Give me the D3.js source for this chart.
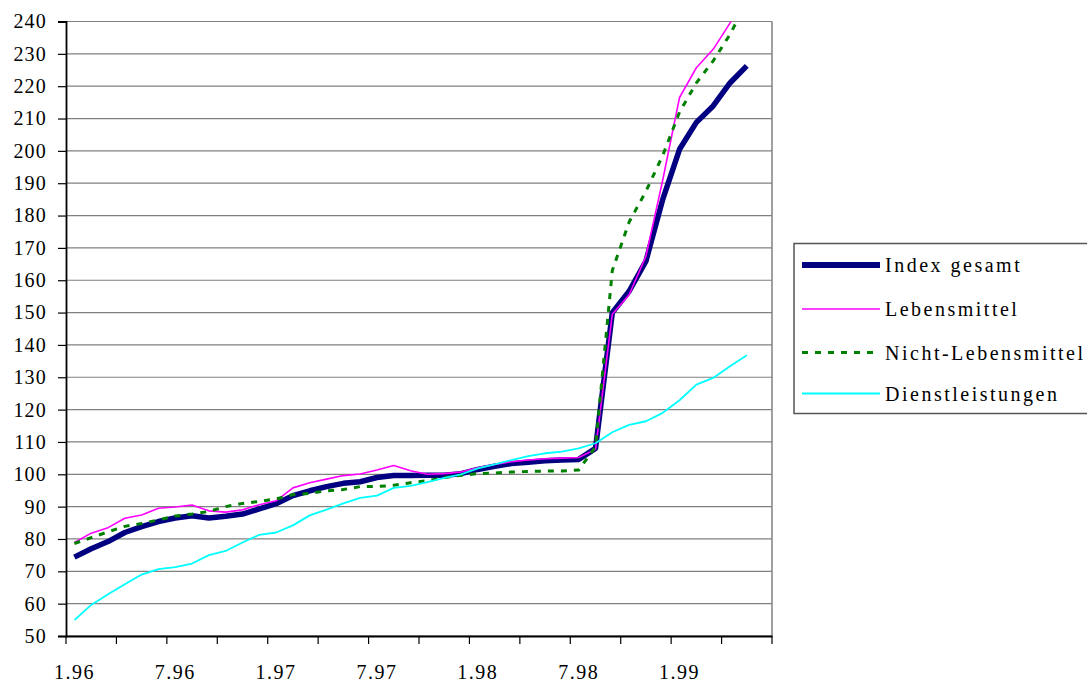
<!DOCTYPE html>
<html><head><meta charset="utf-8">
<script src="https://cdn.jsdelivr.net/npm/d3@7/dist/d3.min.js"></script>
<style>html,body{margin:0;padding:0;background:#fff;overflow:hidden}
text{font-family:"Liberation Serif","Times New Roman",Tinos,"Nimbus Roman","DejaVu Serif",serif}</style>
</head><body>
<svg id="c" width="1087" height="684"></svg>
<script>
// Categories: months 1.96 … 6.99
const years = ["96","97","98","99"];
const categories = [];
years.forEach(y => { for (let m = 1; m <= 12; m++) { if (y === "99" && m > 6) break; categories.push(m + "." + y); } });

const seriesNames = ["Index gesamt", "Lebensmittel", "Nicht-Lebensmittel", "Dienstleistungen"];

const indexGesamt = [74.4,77,79.2,82,83.8,85.4,86.5,87.2,86.5,87,87.7,89.3,90.9,93.4,94.9,96.2,97.2,97.7,99,99.6,
  99.6,99.7,99.7,100.2,101.5,102.5,103.3,103.7,104.2,104.4,104.6,108,150,156.6,165.9,185,200.5,208.8,213.9,221,226.3];
const lebensmittel = [78.9,81.8,83.5,86.4,87.4,89.5,89.9,90.5,88.7,88.3,89,90.6,91.8,95.8,97.4,98.5,99.6,100.1,101.3,102.7,
  101.1,100,100.2,100.7,102,103,103.9,104.4,104.8,105,105.2,107.7,149.5,155.5,167.4,191,216.5,225.7,231.4,239.5,247];
const nichtLebensmittel = [78.6,80.4,82.2,83.9,84.8,85.9,87.1,87.7,88.5,90,91,91.6,92.4,93.7,94.1,94.9,95.3,96.2,96.2,96.6,
  97.4,98,99,99.7,100.2,100.4,100.7,100.9,101,101,101.3,108.5,163,178,187.5,198.6,212,221,227.8,236,246];
const dienstleistungen = [54.9,59.6,62.9,66,69,70.7,71.3,72.4,75,76.3,78.9,81.3,82,84.2,87.3,89.1,91,92.7,93.4,95.8,
  96.4,97.6,98.9,100,101.8,103.1,104.4,105.6,106.5,107,108,109.6,113,115.3,116.4,119,122.9,127.7,129.8,133.4,136.8];

const yTicks = d3.range(50, 241, 10);
const xLabelEvery = 6, xTickEvery = 3;

const series = [
  {name: seriesNames[0], values: indexGesamt, color: "#000080", width: 5.5, dash: null},
  {name: seriesNames[1], values: lebensmittel, color: "#FF00FF", width: 1.6, dash: null},
  {name: seriesNames[2], values: nichtLebensmittel, color: "#008000", width: 3, dash: "6,7"},
  {name: seriesNames[3], values: dienstleistungen, color: "#00FFFF", width: 1.8, dash: null}
];

const svg = d3.select("#c");
const L = 66, R = 772, T = 21.5, B = 636;

const x = d3.scaleBand().domain(categories).range([L, R]).padding(0);
const y = d3.scaleLinear().domain([50, 240]).range([B, T]);

// gridlines
svg.append("g").selectAll("line").data(yTicks).join("line")
  .attr("x1", L).attr("x2", R).attr("y1", d => y(d)).attr("y2", d => y(d))
  .attr("stroke", "#808080").attr("stroke-width", 1.2);
// right plot border
svg.append("line").attr("x1", R).attr("x2", R).attr("y1", T).attr("y2", B)
  .attr("stroke", "#808080").attr("stroke-width", 1.5);

// clip
svg.append("clipPath").attr("id", "clip").append("rect")
  .attr("x", L).attr("y", T).attr("width", R - L).attr("height", B - T);

const line = d3.line().x((d, i) => x(categories[i]) + x.bandwidth() / 2).y(d => y(d));
const g = svg.append("g").attr("clip-path", "url(#clip)");
series.forEach(s => {
  g.append("path").datum(s.values).attr("d", line)
    .attr("fill", "none").attr("stroke", s.color).attr("stroke-width", s.width)
    .attr("stroke-linejoin", "round")
    .attr("stroke-dasharray", s.dash);
});

// Y axis
const yAxis = d3.axisLeft(y).tickValues(yTicks).tickSize(8).tickPadding(12).tickFormat(d3.format("d"));
const ya = svg.append("g").attr("transform", `translate(${L},0)`).call(yAxis);
ya.attr("font-family", null);
ya.select(".domain").attr("stroke", "#000").attr("stroke-width", 1.8);
ya.selectAll(".tick line").attr("stroke", "#000").attr("stroke-width", 1.2);
ya.selectAll(".tick text").attr("font-size", 20).attr("fill", "#000")
  .attr("letter-spacing", "1.2px").attr("x", -19);

// X axis
const xAxis = d3.axisBottom(x).tickSize(0).tickFormat((d, i) => i % xLabelEvery === 0 ? d : "");
const xa = svg.append("g").attr("transform", `translate(0,${B})`).call(xAxis);
xa.attr("font-family", null);
xa.select(".domain").attr("stroke", "#000").attr("stroke-width", 1.8);
xa.selectAll(".tick text").attr("font-size", 20).attr("fill", "#000")
  .attr("letter-spacing", "1.5px").attr("y", 29);
// tick marks between categories
const tickPos = d3.range(0, categories.length + 1, xTickEvery).map(i => i < categories.length ? x(categories[i]) : R);
xa.append("g").selectAll("line").data(tickPos).join("line")
  .attr("x1", d => d).attr("x2", d => d).attr("y1", 0).attr("y2", 8)
  .attr("stroke", "#000").attr("stroke-width", 1.2);

// Legend
const lg = svg.append("g");
lg.append("rect").attr("x", 794).attr("y", 243.5).attr("width", 320).attr("height", 170)
  .attr("fill", "#fff").attr("stroke", "#555").attr("stroke-width", 1.5);
const rowsY = [265, 309, 352.5, 393.5];
series.forEach((s, i) => {
  lg.append("line").attr("x1", 802).attr("x2", 880).attr("y1", rowsY[i]).attr("y2", rowsY[i])
    .attr("stroke", s.color).attr("stroke-width", i === 0 ? 6 : s.width).attr("stroke-dasharray", s.dash);
  lg.append("text").attr("x", 885).attr("y", rowsY[i] + 7).text(s.name)
    .attr("font-size", 20).attr("letter-spacing", "2.5px").attr("fill", "#000");
});
</script>
</body></html>
